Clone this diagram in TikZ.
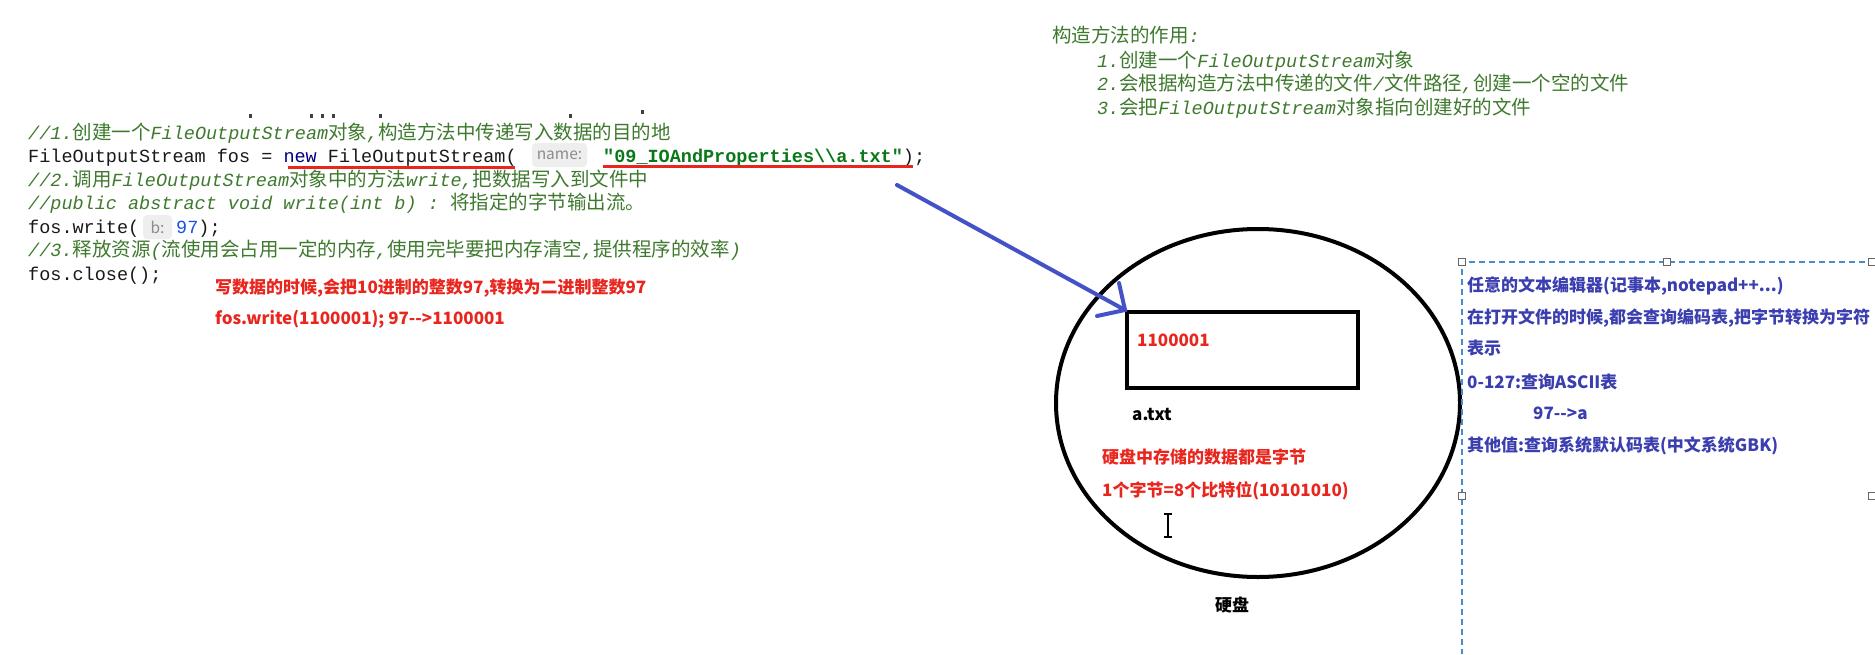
\documentclass[tikz,border=0pt]{standalone}
\usepackage{fontspec}
\setmonofont{Liberation Mono}
\newfontfamily\cjk{Noto Sans CJK SC}
\usetikzlibrary{shapes.geometric}
\definecolor{codeblack}{RGB}{25,25,25}
\definecolor{cmtgreen}{RGB}{62,122,46}
\definecolor{kwnavy}{RGB}{0,0,128}
\definecolor{strgreen}{RGB}{10,120,25}
\definecolor{numblue}{RGB}{23,80,235}
\definecolor{hintgray}{RGB}{140,140,140}
\definecolor{hintbg}{RGB}{238,238,238}
\definecolor{myred}{RGB}{232,38,30}
\definecolor{myblue}{RGB}{58,62,175}
\definecolor{arrowblue}{RGB}{68,82,200}
\definecolor{dashblue}{RGB}{70,140,210}
\newcommand\zhc[1]{{\cjk\upshape\fontsize{19.5}{23.5}\selectfont #1}}
\begin{document}
\begin{tikzpicture}[x=1pt,y=-1pt,
  code/.style={anchor=base west,inner sep=0pt,text=codeblack,font=\ttfamily\fontsize{18.5}{23.5}\selectfont},
  cmt/.style={anchor=base west,inner sep=0pt,text=cmtgreen,font=\ttfamily\itshape\fontsize{18.5}{23.5}\selectfont},
  hint/.style={fill=hintbg,rounded corners=4pt,text=hintgray,inner sep=0pt,minimum height=24pt,font=\cjk\fontsize{15.5}{18}\selectfont},
  redtxt/.style={anchor=base west,inner sep=0pt,text=myred,font=\cjk\bfseries\fontsize{17}{20}\selectfont},
  bluetxt/.style={anchor=base west,inner sep=0pt,text=myblue,font=\cjk\bfseries\fontsize{17}{20}\selectfont},
  blktxt/.style={inner sep=0pt,text=black,font=\cjk\bfseries\fontsize{17}{20}\selectfont},
  uline/.style={draw=myred,line width=3pt},
  bluepen/.style={draw=arrowblue,line width=4pt,line cap=round},
  handle/.style={draw=gray!80!black,fill=white,line width=1pt,minimum size=7pt,inner sep=0pt},
  dashbox/.style={draw=dashblue,line width=1.3pt,dash pattern=on 6pt off 4pt},
  frag/.style={fill=black!75,inner sep=0pt,minimum width=3pt,minimum height=4pt}
]
\fill[white] (0,0) rectangle (1875,654);
\useasboundingbox (0,0) rectangle (1875,654);

% clipped fragments of a line above
\node[frag] (f1) at (250,116) {};
\node[frag] (f2) at (311,116) {};
\node[frag] (f3) at (322,116) {};
\node[frag] (f4) at (333,116) {};
\node[frag] (f5) at (380,116) {};
\node[frag] (f6) at (570,116) {};
\node[frag] (f7) at (642,112) {};

% code
\node[cmt] (c1) at (28,139) {//1.\zhc{创建一个}FileOutputStream\zhc{对象},\zhc{构造方法中传递写入数据的目的地}};
\node[code] (c2) at (28,162.5) {FileOutputStream fos = \textcolor{kwnavy}{new} FileOutputStream(};
\node[hint,minimum width=55pt] (h1) at (559.5,155) {name:};
\node[code] (c2s) at (603,162.5) {\textcolor{strgreen}{\bfseries "09\_IOAndProperties\textbackslash\textbackslash a.txt"});};
\node[cmt] (c3) at (28,186) {//2.\zhc{调用}FileOutputStream\zhc{对象中的方法}write,\zhc{把数据写入到文件中}};
\node[cmt] (c4) at (28,209.5) {//public abstract void write(int b) : \zhc{将指定的字节输出流。}};
\node[code] (c5) at (28,233) {fos.write(};
\node[hint,minimum width=29pt] (h2) at (157.5,227) {b:};
\node[code] (c5n) at (176,233) {\textcolor{numblue}{97});};
\node[cmt] (c6) at (28,256.5) {//3.\zhc{释放资源}(\zhc{流使用会占用一定的内存},\zhc{使用完毕要把内存清空},\zhc{提供程序的效率})};
\node[code] (c7) at (28,280) {fos.close();};

% red underlines
\draw[uline] (288,167) -- (515,167);
\draw[uline] (603,166) -- (913,166);

% red notes
\node[redtxt] (r1) at (215,293.5) {写数据的时候,会把10进制的整数97,转换为二进制整数97};
\node[redtxt] (r2) at (215,324.5) {fos.write(1100001); 97-->1100001};

% constructor notes
\node[cmt] (k0) at (1052,42) {\zhc{构造方法的作用}:};
\node[cmt] (k1) at (1097,67) {1.\zhc{创建一个}FileOutputStream\zhc{对象}};
\node[cmt] (k2) at (1097,90) {2.\zhc{会根据构造方法中传递的文件}/\zhc{文件路径},\zhc{创建一个空的文件}};
\node[cmt] (k3) at (1097,114) {3.\zhc{会把}FileOutputStream\zhc{对象指向创建好的文件}};

% disk
\node[ellipse,draw=black,line width=4pt,minimum width=404pt,minimum height=348pt,inner sep=0pt] (disk) at (1258,403) {};
\node[draw=black,line width=4pt,minimum width=231pt,minimum height=76pt,inner sep=0pt] (file) at (1242.5,350) {};
\node[redtxt] (bits) at (1137,346.5) {1100001};
\node[blktxt,anchor=base west] (fname) at (1132,420) {a.txt};
\node[redtxt] (d1) at (1102,463.5) {硬盘中存储的数据都是字节};
\node[redtxt] (d2) at (1102,496.5) {1个字节=8个比特位(10101010)};
\node[blktxt] (dl) at (1232,605) {硬盘};

% I-beam cursor
\draw[black,line width=1.5pt] (1168,514) -- (1168,537);
\draw[black,line width=1.2pt] (1164,514) -- (1172,514) (1164,537) -- (1172,537);

% blue arrow
\coordinate (arrS) at (897,185);
\coordinate (headA) at (1119,283);
\coordinate (headB) at (1097,316);
\draw[bluepen] (arrS) -- (file.north west);
\draw[bluepen] (headA) -- (file.north west) -- (headB);

% dashed text box
\draw[dashbox] (1875,262) -- (1462,262) -- (1462,654);
\node[handle] (hd1) at (1462,262) {};
\node[handle] (hd2) at (1667,262) {};
\node[handle] (hd3) at (1872,262) {};
\node[handle] (hd4) at (1462,496) {};
\node[handle] (hd5) at (1872,496) {};
\node[bluetxt] (b1) at (1467,291.5) {任意的文本编辑器(记事本,notepad++...)};
\node[bluetxt] (b2) at (1467,323.5) {在打开文件的时候,都会查询编码表,把字节转换为字符};
\node[bluetxt] (b3) at (1467,354.5) {表示};
\node[bluetxt] (b4) at (1467,388.5) {0-127:查询ASCII表};
\node[bluetxt] (b5) at (1533,419.5) {97-->a};
\node[bluetxt] (b6) at (1467,451.5) {其他值:查询系统默认码表(中文系统GBK)};
\end{tikzpicture}
\end{document}
